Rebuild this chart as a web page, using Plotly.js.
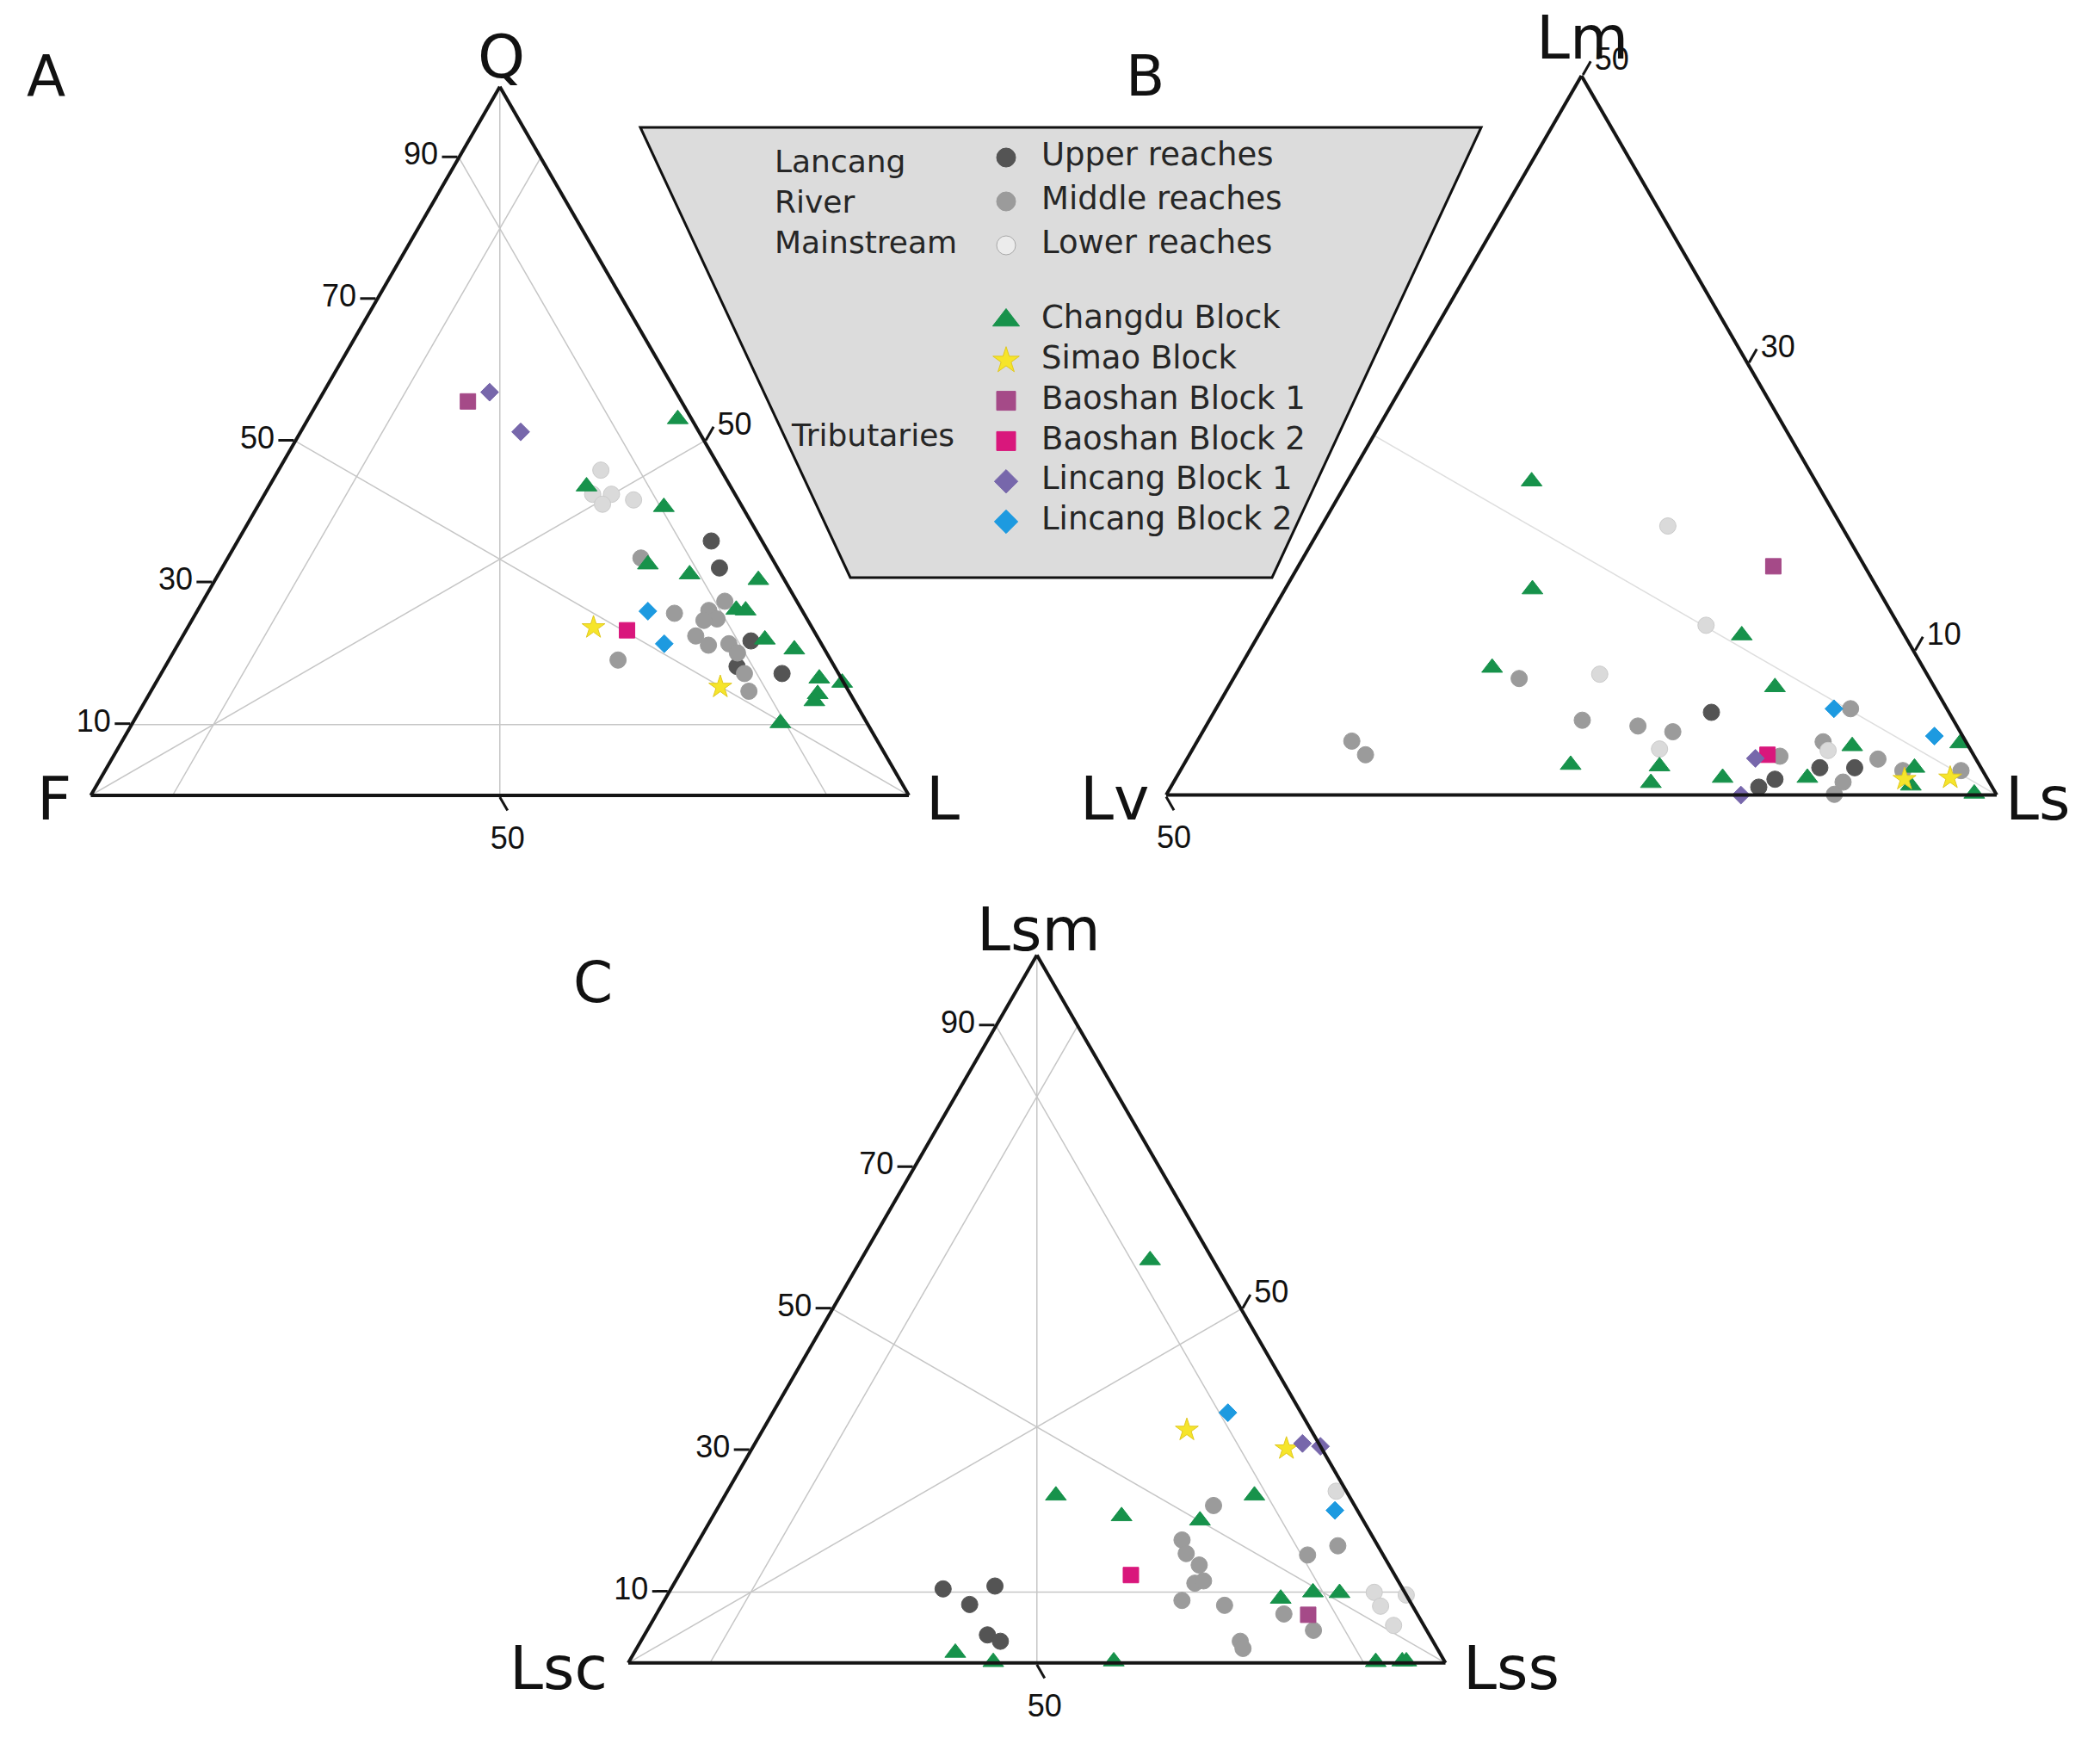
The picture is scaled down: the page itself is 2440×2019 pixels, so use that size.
<!DOCTYPE html>
<html><head><meta charset="utf-8">
<script src="https://cdn.plot.ly/plotly-3.0.1.min.js"></script>
<style>html,body{margin:0;padding:0;background:#fff;}#chart{width:2440px;height:2019px;}</style>
</head><body><div id="chart"></div>
<script>
// ---------------- DATA ----------------
// Panel A triples: [Q, F, L]
const A_upper = [[35.9,6.2,57.9],[32.1,7.1,60.8],[21.8,8.4,69.8],[18.2,11.9,69.9],[17.2,6.9,75.9]];
const A_middle = [[33.5,16.0,50.5],[25.7,15.8,58.5],[19.1,26.0,54.9],[27.4,8.8,63.8],[26.1,11.4,62.5],[24.9,11.0,64.1],[24.7,12.7,62.6],[22.5,14.8,62.7],[21.2,13.9,64.9],[21.4,11.3,67.3],[20.1,10.9,69.0],[17.2,11.5,71.3],[14.7,12.2,73.1]];
const A_lower = [[45.9,14.7,39.4],[42.5,17.4,40.1],[42.5,15.1,42.4],[41.1,16.9,42.0],[41.7,12.8,45.5]];
const A_changdu = [[53.1,1.7,45.2],[43.6,17.6,38.8],[40.7,9.6,49.7],[32.6,15.6,51.8],[31.2,11.2,57.6],[30.4,3.2,66.4],[26.2,8.0,65.8],[26.1,6.9,67.0],[22.0,6.6,71.4],[20.6,3.7,75.7],[16.5,2.7,80.8],[15.9,0.2,83.9],[14.3,4.0,81.7],[13.3,4.9,81.8],[10.2,10.6,79.2]];
const A_simao = [[23.7,26.7,49.6],[15.3,15.4,69.3]];
const A_baoshan1 = [[55.6,26.1,18.3]];
const A_baoshan2 = [[23.3,22.8,53.9]];
const A_lincang1 = [[56.9,22.8,20.3],[51.3,21.8,26.9]];
const A_lincang2 = [[26.0,18.9,55.1],[21.4,19.2,59.4]];

// Panel B triples: [Lm, Lv, Ls]
const B_upper = [[5.75,14.3,79.95],[1.1,12.8,86.1],[0.55,14.05,85.4],[1.9,9.7,88.4],[1.9,7.6,90.5]];
const B_middle = [[3.75,36.95,59.3],[2.8,36.6,60.6],[8.1,24.7,67.2],[5.2,22.35,72.45],[4.8,19.2,76.0],[4.4,17.3,78.3],[6.0,5.8,88.2],[2.7,11.7,85.6],[3.7,8.6,87.7],[2.5,5.9,91.6],[1.7,4.8,93.5],[1.7,1.3,97.0],[0.9,8.8,90.3],[0.05,9.75,90.2]];
const B_lower = [[18.7,10.45,70.85],[11.8,11.6,76.6],[8.4,19.7,71.9],[3.2,18.7,78.1],[3.1,8.6,88.3]];
const B_changdu = [[21.8,17.1,61.1],[14.3,20.8,64.9],[8.85,25.95,65.2],[11.1,9.8,79.1],[7.5,9.6,82.9],[2.1,24.6,73.3],[2.0,19.3,78.7],[0.84,20.4,78.76],[1.2,15.9,82.9],[1.2,10.8,88.0],[3.4,7.0,89.6],[1.9,4.0,94.1],[0.66,4.84,94.5],[3.6,0.4,96.0],[0.1,1.3,98.6]];
const B_simao = [[1.1,5.0,93.9],[1.2,2.2,96.6]];
const B_baoshan1 = [[15.9,5.5,78.6]];
const B_baoshan2 = [[2.8,12.4,84.8]];
const B_lincang1 = [[2.55,13.25,84.2],[0.0,15.4,84.6]];
const B_lincang2 = [[6.0,6.8,87.2],[4.1,1.7,94.2]];

// Panel C triples: [Lsm, Lsc, Lss]
const C_upper = [[10.46,56.25,33.3],[10.86,49.7,39.44],[8.26,54.1,37.65],[3.96,54.07,41.97],[3.06,52.94,44.0]];
const C_middle = [[22.24,17.26,60.5],[17.37,23.55,59.08],[15.45,24.0,60.55],[13.83,23.22,62.95],[11.27,25.03,63.7],[11.59,23.81,64.6],[8.83,27.83,63.34],[8.14,22.96,68.9],[3.06,23.58,73.36],[2.05,23.75,74.2],[15.25,9.25,75.5],[16.55,4.9,78.55],[6.92,16.31,76.77],[4.61,13.85,81.54]];
const C_lower = [[24.26,1.24,74.5],[9.97,3.73,86.3],[8.02,3.93,88.05],[9.6,0.0,90.4],[5.3,3.7,91.0]];
const C_changdu = [[56.9,7.7,35.4],[23.65,35.85,40.5],[20.73,29.27,50.0],[20.12,19.98,59.9],[23.65,11.55,64.8],[9.08,15.62,75.3],[9.97,11.23,78.8],[9.88,8.02,82.1],[1.44,59.26,39.3],[0.13,55.27,44.6],[0.22,40.48,59.3],[0.13,8.47,91.4],[0.22,5.18,94.6],[0.22,4.68,95.1]];
const C_simao = [[32.91,15.19,51.9],[30.28,4.32,65.4]];
const C_baoshan1 = [[6.8,13.4,79.8]];
const C_baoshan2 = [[12.41,32.29,55.3]];
const C_lincang1 = [[31.01,1.99,67.0],[30.6,0.0,69.4]];
const C_lincang2 = [[35.35,8.95,55.7],[21.55,2.75,75.7]];

// Legend / labels
const groupKeys = ['upper','middle','lower','changdu','simao','baoshan1','baoshan2','lincang1','lincang2'];
const legendNames = ['Upper reaches','Middle reaches','Lower reaches','Changdu Block','Simao Block','Baoshan Block 1','Baoshan Block 2','Lincang Block 1','Lincang Block 2'];
const groupTitles = ['Lancang<br>River<br>Mainstream','Tributaries'];
const panelLetters = ['A','B','C'];
const vertexNamesA = ['Q','F','L'];
const vertexNamesB = ['Lm','Lv','Ls'];
const vertexNamesC = ['Lsm','Lsc','Lss'];
const tickValsA = [10,30,50,70,90];
const tickMid = [50];
const tickValsB_c = [50,70,90];
const tickTextB_c = ['50','30','10'];
const guideLevel = 10;
const SUM = 100;

// ---------------- STYLE / LAYOUT ----------------
const W = 2440, H = 2019;
const FONT = 'DejaVu Sans, Arial, sans-serif';
const TICKFONT = 'Liberation Sans, Arial, sans-serif';
const styles = {
  upper:   {symbol:'circle', color:'#545454', line:'#545454', size:19, lsize:22},
  middle:  {symbol:'circle', color:'#9b9b9b', line:'#9b9b9b', size:19, lsize:22},
  lower:   {symbol:'circle', color:'#dadada', line:'#cbcbcb', size:19, lsize:22},
  changdu: {symbol:'triangle-up', color:'#17924b', line:'#17924b', size:21, lsize:27},
  simao:   {symbol:'star', color:'#f6e52a', line:'#e0c820', size:20, lsize:23},
  baoshan1:{symbol:'square', color:'#a54a88', line:'#a54a88', size:18, lsize:22},
  baoshan2:{symbol:'square', color:'#d9177c', line:'#d9177c', size:18, lsize:22},
  lincang1:{symbol:'diamond', color:'#7767ab', line:'#7767ab', size:16, lsize:21},
  lincang2:{symbol:'diamond', color:'#1d9ae0', line:'#1d9ae0', size:16, lsize:21}
};
const panels = [
  {id:'ternary', data:{upper:A_upper,middle:A_middle,lower:A_lower,changdu:A_changdu,simao:A_simao,baoshan1:A_baoshan1,baoshan2:A_baoshan2,lincang1:A_lincang1,lincang2:A_lincang2}},
  {id:'ternary2', data:{upper:B_upper,middle:B_middle,lower:B_lower,changdu:B_changdu,simao:B_simao,baoshan1:B_baoshan1,baoshan2:B_baoshan2,lincang1:B_lincang1,lincang2:B_lincang2}},
  {id:'ternary3', data:{upper:C_upper,middle:C_middle,lower:C_lower,changdu:C_changdu,simao:C_simao,baoshan1:C_baoshan1,baoshan2:C_baoshan2,lincang1:C_lincang1,lincang2:C_lincang2}}
];

const traces = [];
const GRID = {color:'#c6c6c6', width:1.5};
function guide(subplot, p1, p2, line) {
  traces.push({type:'scatterternary', subplot, mode:'lines',
    a:[p1[0],p2[0]], b:[p1[1],p2[1]], c:[p1[2],p2[2]],
    line: line || GRID, hoverinfo:'skip', showlegend:false, cliponaxis:true});
}
function fullGuides(subplot) {
  const S = SUM, L = guideLevel;
  guide(subplot,[S,0,0],[0,S/2,S/2]);
  guide(subplot,[0,S,0],[S/2,0,S/2]);
  guide(subplot,[0,0,S],[S/2,S/2,0]);
  guide(subplot,[L,S-L,0],[L,0,S-L]);
  guide(subplot,[S-L,L,0],[0,L,S-L]);
  guide(subplot,[S-L,0,L],[0,S-L,L]);
}
fullGuides('ternary');
fullGuides('ternary3');
// panel B: sub-triangle median from Ls vertex to the left-edge midpoint
const B_cmin = 50, B_span = SUM - B_cmin;
guide('ternary2',[B_span/2,B_span/2,B_cmin],[0,0,SUM],{color:'#dedede',width:1.5});

panels.forEach(p => {
  groupKeys.forEach((k,i) => {
    const arr = p.data[k], st = styles[k];
    traces.push({type:'scatterternary', subplot:p.id, mode:'markers', name:legendNames[i],
      a:arr.map(v=>v[0]), b:arr.map(v=>v[1]), c:arr.map(v=>v[2]),
      marker:{symbol:st.symbol, size:st.size, color:st.color, line:{color:st.line, width:1}},
      cliponaxis:false, showlegend:false});
  });
});

// manual legend (pixel-unit cartesian axes)
const LEG_MX = 1169, LEG_TX = 1210;
const rowY = legendNames.map((_,i) => i < 3 ? 183 + i*51 : 372 + (i-3)*46.8);
groupKeys.forEach((k,i) => {
  const st = styles[k];
  traces.push({type:'scatter', xaxis:'x', yaxis:'y', mode:'markers', x:[LEG_MX], y:[rowY[i]],
    marker:{symbol:st.symbol, size:st.lsize, color: k==='lower' ? '#ececec' : st.color,
      line:{color: k==='lower' ? '#a8a8a8' : st.line, width:1}},
    cliponaxis:false, showlegend:false, hoverinfo:'skip'});
});
traces.push({type:'scatter', xaxis:'x', yaxis:'y', mode:'text', x:legendNames.map(()=>LEG_TX), y:rowY,
  text:legendNames, textposition:'middle right', textfont:{family:FONT, size:37, color:'#262626'},
  cliponaxis:false, showlegend:false, hoverinfo:'skip'});

function dom(x0, x1, yb) {
  const h = (x1 - x0) * Math.sqrt(3) / 2;
  return {x:[x0/W, x1/W], y:[1 - yb/H, 1 - (yb - h)/H]};
}
function ax(min, tickvals, ticktext) {
  const has = tickvals && tickvals.length > 0;
  const o = {min:min, title:{text:''}, showgrid:false, showline:true, linecolor:'#151515', linewidth:4,
    ticks: has ? 'outside' : '', ticklen:18, tickwidth:3, tickcolor:'#151515',
    showticklabels: has, tickfont:{family:TICKFONT, size:36, color:'#111'}};
  if (has) { o.tickmode = 'array'; o.tickvals = tickvals; if (ticktext) o.ticktext = ticktext; }
  return o;
}
const tern = (d, a, b, c) => ({sum:SUM, domain:d, bgcolor:'rgba(0,0,0,0)', aaxis:a, baxis:b, caxis:c});

const ann = [];
function label(text, x, y, size, extra) {
  ann.push(Object.assign({text, x, y, xref:'x', yref:'y', showarrow:false, xanchor:'center', yanchor:'middle',
    font:{family:FONT, size, color:'#111'}}, extra || {}));
}
label(panelLetters[0], 53, 88, 66);
label(panelLetters[1], 1330, 88, 66);
label(panelLetters[2], 689, 1141, 66);
label(vertexNamesA[0], 582, 66, 70);
label(vertexNamesA[1], 63, 928, 70);
label(vertexNamesA[2], 1095, 928, 70);
label(vertexNamesB[0], 1838, 44, 70);
label(vertexNamesB[1], 1295, 928, 70);
label(vertexNamesB[2], 2367, 928, 70);
label(vertexNamesC[0], 1207, 1080, 70);
label(vertexNamesC[1], 649, 1938, 70);
label(vertexNamesC[2], 1756, 1938, 70);
label(groupTitles[0], 898, 234, 36, {xanchor:'left', align:'left', font:{family:FONT, size:36, color:'#262626'}});
label(groupTitles[1], 917, 505, 36, {xanchor:'left', align:'left', font:{family:FONT, size:36, color:'#262626'}});

const layout = {
  width:W, height:H, margin:{l:0,r:0,t:0,b:0,pad:0}, autosize:false,
  paper_bgcolor:'#ffffff', plot_bgcolor:'rgba(0,0,0,0)', showlegend:false,
  font:{family:FONT, color:'#111'},
  xaxis:{domain:[0,1], range:[0,W], visible:false, fixedrange:true},
  yaxis:{domain:[0,1], range:[H,0], visible:false, fixedrange:true},
  ternary: tern(dom(105.5,1056,924), ax(0,tickValsA), ax(0,tickMid), ax(0,tickMid)),
  ternary2: tern(dom(1355,2320,923.6), ax(0,[]), ax(0,tickMid), ax(B_cmin,tickValsB_c,tickTextB_c)),
  ternary3: tern(dom(730,1679.5,1931.8), ax(0,tickValsA), ax(0,tickMid), ax(0,tickMid)),
  shapes:[{type:'path', xref:'x', yref:'y', layer:'below',
    path:'M744,148 L1721,148 L1478,671 L988,671 Z', fillcolor:'#dcdcdc', line:{color:'#111', width:3}}],
  annotations: ann
};
Plotly.newPlot('chart', traces, layout, {staticPlot:true, displayModeBar:false});
</script></body></html>
